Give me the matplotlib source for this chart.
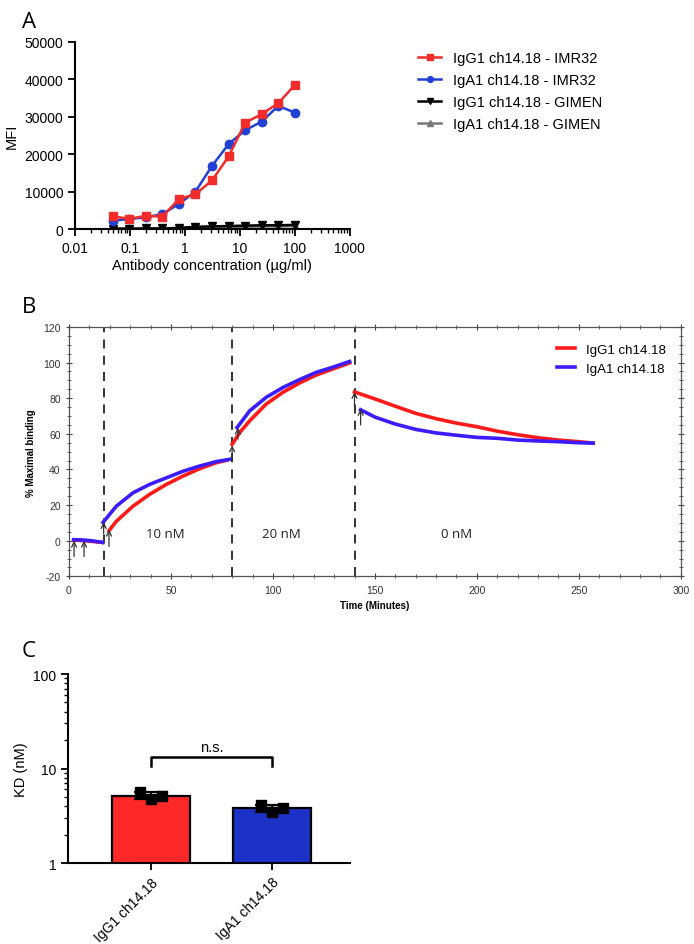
import numpy as np
import matplotlib
matplotlib.use("Agg")
import matplotlib.pyplot as plt
from matplotlib.ticker import FixedLocator, MultipleLocator, LogLocator, NullFormatter

plt.rcParams['font.family'] = ['Liberation Sans', 'DejaVu Sans']
plt.rcParams['axes.unicode_minus'] = False

# ---- panel A: binding titration ----
conc = [0.049, 0.098, 0.195, 0.39, 0.78, 1.56, 3.125, 6.25, 12.5, 25, 50, 100]
igg1_imr32 = [3400, 2700, 3550, 3300, 8000, 9300, 13000, 19400, 28400, 30700, 33600, 38500]
iga1_imr32 = [2200, 2700, 3100, 4000, 6700, 10000, 16900, 22700, 26400, 28700, 32900, 31100]
igg1_gimen = [100, 100, 150, 150, 300, 600, 700, 800, 900, 1000, 1000, 1100]
iga1_gimen = [50, 50, 80, 80, 150, 300, 400, 500, 600, 700, 700, 800]
a_xticks = [0.01, 0.1, 1, 10, 100, 1000]
a_xlabels = ["0.01", "0.1", "1", "10", "100", "1000"]

# ---- panel B: kinetics trace ----
base_t = [2.3, 5, 8, 11, 14, 16.5]
base_red = [0.3, 0.2, 0.0, -0.3, -0.7, -1.0]
base_blue = [0.6, 0.5, 0.3, 0.0, -0.5, -0.9]

p1_t_blue = [16.7, 23.2, 31.4, 39.5, 47.7, 55.9, 64.0, 72.2, 78.8]
p1_blue = [10.3, 19.4, 26.9, 31.6, 35.3, 39.0, 41.9, 44.4, 45.7]
p1_t_red = [19.6, 23.2, 31.4, 39.5, 47.7, 55.9, 64.0, 72.2, 77.1]
p1_red = [5.6, 10.9, 19.4, 26.0, 31.6, 36.3, 40.4, 43.8, 45.1]

p2_t_blue = [82.4, 88.6, 96.7, 104.9, 113.0, 121.2, 129.4, 137.6]
p2_blue = [63.5, 72.9, 80.5, 86.0, 90.4, 94.5, 97.4, 100.6]
p2_t_red = [80.0, 83.7, 88.6, 96.7, 104.9, 113.0, 121.2, 129.4, 137.6]
p2_red = [54.1, 60.7, 67.3, 76.7, 83.3, 88.5, 93.0, 96.4, 99.8]

p3_t_red = [140, 150, 160, 170, 180, 190, 200, 210, 220, 230, 240, 250, 257]
p3_red = [83.5, 79.6, 75.5, 71.5, 68.5, 66.0, 64.0, 61.5, 59.5, 57.8, 56.5, 55.6, 54.8]
p3_t_blue = [143, 150, 160, 170, 180, 190, 200, 210, 220, 230, 240, 250, 257]
p3_blue = [73.5, 69.4, 65.5, 62.5, 60.5, 59.2, 58.0, 57.5, 56.5, 56.0, 55.6, 55.0, 54.8]

injections = [17, 80, 140]
arrows = [(2.5, -8.8, 0), (7.4, -8.8, 0), (17, 4, 10.5), (19.6, -3.2, 6.2),
          (80, 45.5, 53.5), (82.8, 57, 63.5), (140, 75, 83.5), (143, 65, 74)]
conc_labels = [(47, 4, "10 nM"), (104, 4, "20 nM"), (190, 4, "0 nM")]

# ---- panel C: KD ----
kd_names = ["IgG1 ch14.18", "IgA1 ch14.18"]
kd_points = [[5.6, 4.75, 5.15], [4.14, 3.49, 3.79]]

fig = plt.figure(figsize=(6.94, 9.45), dpi=100)

red_a = "#f22b2b"
blue_a = "#2140d4"

# ===== A =====
axA = fig.add_axes([0.108, 0.7566, 0.396, 0.198])
axA.plot(conc, iga1_gimen, color="#777777", marker="^", ms=5.5, lw=1.8, label="IgA1 ch14.18 - GIMEN", zorder=2)
axA.plot(conc, igg1_gimen, color="black", marker="v", ms=5.5, lw=1.8, label="IgG1 ch14.18 - GIMEN", zorder=3)
axA.plot(conc, iga1_imr32, color=blue_a, marker="o", ms=6, lw=1.8, label="IgA1 ch14.18 - IMR32", zorder=4)
axA.plot(conc, igg1_imr32, color=red_a, marker="s", ms=6, lw=1.8, label="IgG1 ch14.18 - IMR32", zorder=5)
axA.set_xscale("log")
axA.set_xlim(0.01, 1000)
axA.set_ylim(0, 50000)
axA.set_yticks([0, 10000, 20000, 30000, 40000, 50000])
axA.xaxis.set_major_locator(FixedLocator(a_xticks))
axA.set_xticklabels(a_xlabels)
axA.xaxis.set_minor_locator(LogLocator(base=10, subs=np.arange(2, 10)))
axA.xaxis.set_minor_formatter(NullFormatter())
for s in ["top", "right"]:
    axA.spines[s].set_visible(False)
for s in ["left", "bottom"]:
    axA.spines[s].set_linewidth(1.5)
axA.tick_params(which="major", length=5, width=1.3, labelsize=10)
axA.tick_params(which="minor", length=3, width=1.0)
axA.set_ylabel("MFI", fontsize=10.5)
axA.set_xlabel("Antibody concentration (µg/ml)", fontsize=10.5, labelpad=2)
h, l = axA.get_legend_handles_labels()
order = [3, 2, 1, 0]
axA.legend([h[i] for i in order], [l[i] for i in order], loc="upper left",
           bbox_to_anchor=(1.2, 1.02), frameon=False, fontsize=10.5,
           handlelength=1.6, labelspacing=0.55, markerscale=0.7)

# ===== B =====
red_b = "#ff1a1a"
blue_b = "#3a1cff"
axB = fig.add_axes([0.0994, 0.389, 0.8816, 0.264])
for x in injections:
    axB.axvline(x, color="#222222", lw=1.3, ls=(0, (5, 4)), zorder=1)
axB.plot(base_t, base_blue, color=blue_b, lw=2.6, zorder=3)
axB.plot(base_t, base_red, color=red_b, lw=2.6, zorder=2)
axB.plot(p1_t_red, p1_red, color=red_b, lw=2.6, zorder=2)
axB.plot(p1_t_blue, p1_blue, color=blue_b, lw=2.6, zorder=3)
axB.plot(p2_t_red, p2_red, color=red_b, lw=2.6, zorder=2)
axB.plot(p2_t_blue, p2_blue, color=blue_b, lw=2.6, zorder=3)
axB.plot(p3_t_red, p3_red, color=red_b, lw=2.6, zorder=2, label="IgG1 ch14.18")
axB.plot(p3_t_blue, p3_blue, color=blue_b, lw=2.6, zorder=3, label="IgA1 ch14.18")
for x, y0, y1 in arrows:
    axB.annotate("", xy=(x, y1), xytext=(x, y0),
                 arrowprops=dict(arrowstyle="->", color="#333333", lw=0.9,
                                 mutation_scale=9, shrinkA=0, shrinkB=0), zorder=4)
for x, y, t in conc_labels:
    axB.text(x, y, t, fontsize=9.5, family=["Open Sans", "DejaVu Sans"],
             ha="center", va="center", color="#222222")
axB.set_xlim(0, 300)
axB.set_ylim(-20, 120)
axB.xaxis.set_major_locator(MultipleLocator(50))
axB.xaxis.set_minor_locator(MultipleLocator(10))
axB.yaxis.set_major_locator(MultipleLocator(20))
axB.yaxis.set_minor_locator(MultipleLocator(5))
axB.tick_params(which="both", direction="inout", top=True, right=True,
                labelsize=7.5, colors="#444444", labelcolor="#333333")
axB.tick_params(which="major", length=5, width=0.8)
axB.tick_params(which="minor", length=3, width=0.6)
for s in axB.spines.values():
    s.set_color("#555555")
    s.set_linewidth(0.9)
axB.set_xlabel("Time (Minutes)", fontsize=7, fontweight="bold", labelpad=4)
axB.set_ylabel("% Maximal binding", fontsize=7, fontweight="bold", labelpad=5)
axB.legend(loc="upper right", frameon=False, fontsize=9.5, handlelength=1.4,
           handletextpad=0.8, bbox_to_anchor=(0.995, 0.98), labelspacing=0.5)

# ===== C =====
axC = fig.add_axes([0.098, 0.0857, 0.406, 0.2])
kd_colors = ["#ff2828", "#1c32c6"]
xs = np.arange(len(kd_names))
means = [np.mean(p) for p in kd_points]
sds = [np.std(p, ddof=1) for p in kd_points]
axC.bar(xs, means, width=0.65, color=kd_colors, edgecolor="black", linewidth=1.6,
        zorder=2)
axC.errorbar(xs, means, yerr=sds, fmt="none", ecolor="black", elinewidth=1.6,
             capsize=12, capthick=1.6, zorder=3)
offsets = [-0.09, 0.0, 0.09]
for i, pts in enumerate(kd_points):
    axC.scatter([xs[i] + o for o in offsets], pts, marker="s", s=45,
                color="black", zorder=4)
axC.set_yscale("log")
axC.set_ylim(1, 100)
axC.set_xlim(-0.686, 1.645)
axC.set_yticks([1, 10, 100])
axC.set_yticklabels(["1", "10", "100"])
axC.yaxis.set_minor_locator(LogLocator(base=10, subs=np.arange(2, 10)))
axC.yaxis.set_minor_formatter(NullFormatter())
axC.set_xticks(xs)
axC.set_xticklabels(kd_names, rotation=45, ha="right", rotation_mode="anchor")
for s in ["top", "right"]:
    axC.spines[s].set_visible(False)
for s in ["left", "bottom"]:
    axC.spines[s].set_linewidth(1.5)
axC.tick_params(which="major", length=5, width=1.3, labelsize=10)
axC.tick_params(which="minor", length=3, width=1.0)
axC.set_ylabel("KD (nM)", fontsize=10.5)
# significance bracket
yb, yt = 10.7, 13.1
axC.plot([xs[0], xs[0], xs[1], xs[1]], [yb, yt, yt, yb], color="black", lw=1.8)
axC.text(np.mean(xs), 14.3, "n.s.", ha="center", va="bottom", fontsize=10.5)

# panel letters
for y, t in [(0.987, "A"), (0.686, "B"), (0.322, "C")]:
    fig.text(0.031, y, t, fontsize=16, family=["Open Sans", "DejaVu Sans"],
             ha="left", va="top")

fig.savefig("out.png", dpi=100)
